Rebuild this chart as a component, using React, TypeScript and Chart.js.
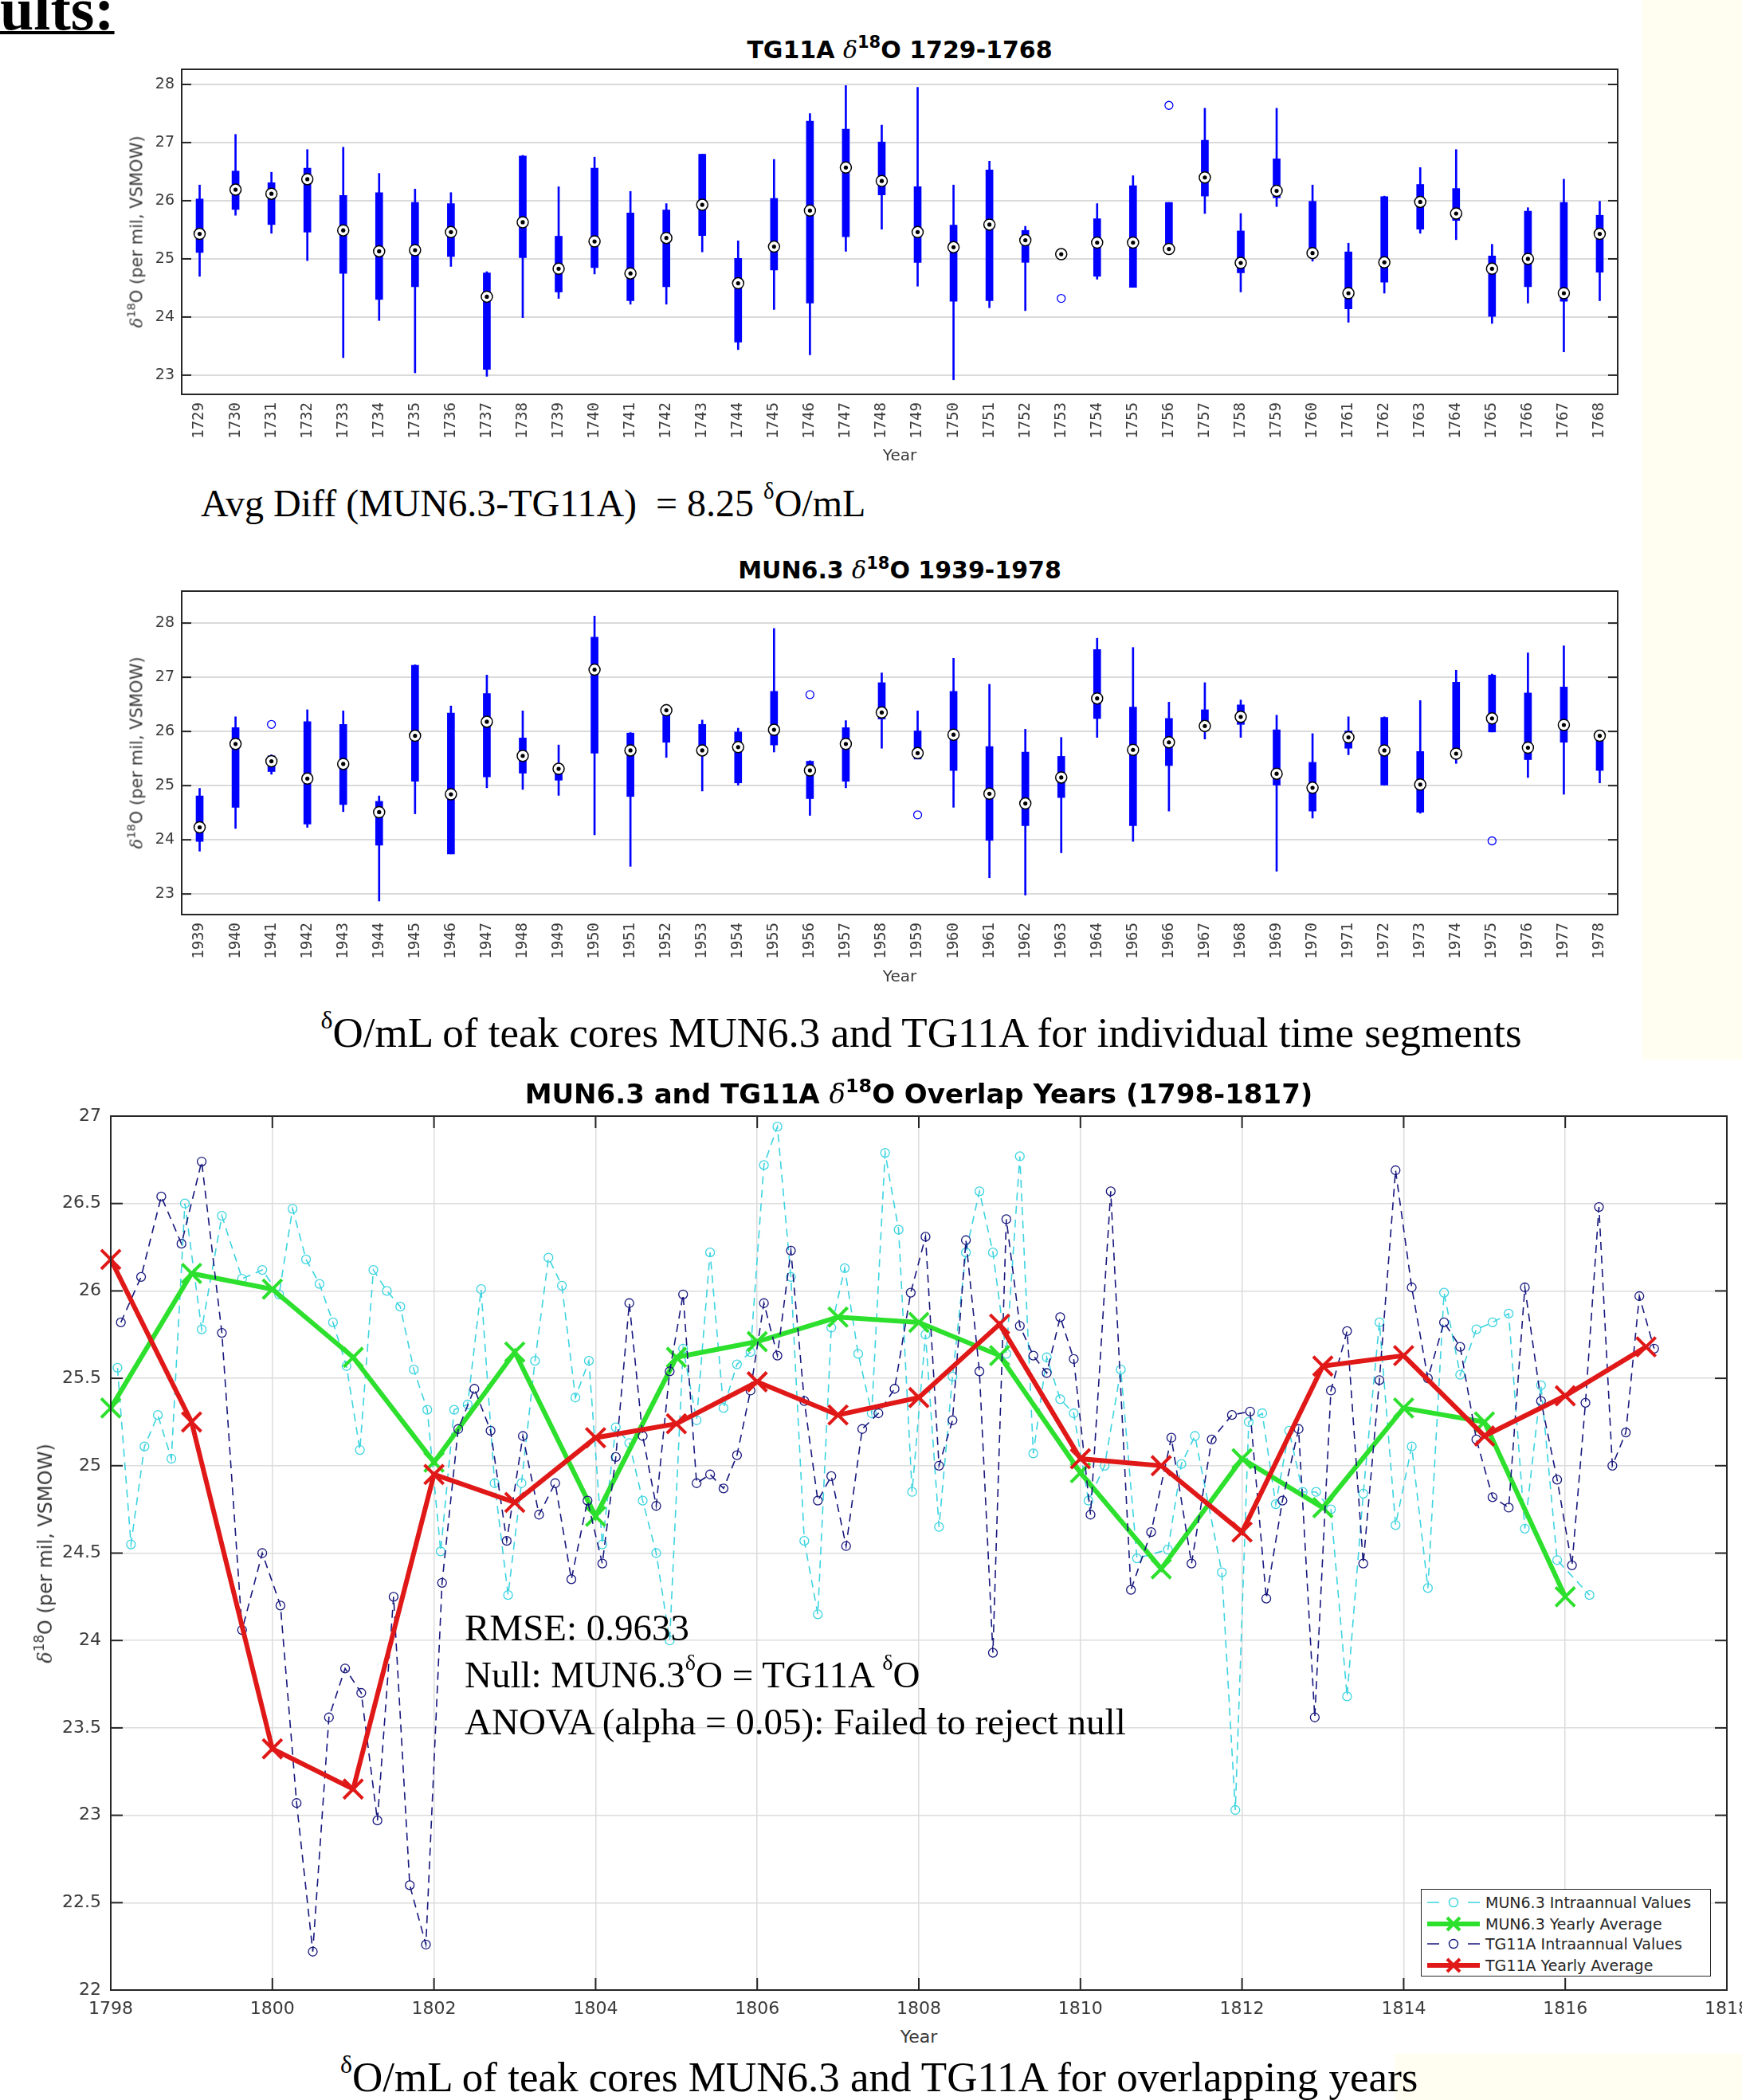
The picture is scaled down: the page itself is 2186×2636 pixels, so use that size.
import React, { useEffect, useRef } from 'react';
import { Chart, registerables } from 'chart.js';

Chart.register(...registerables);

// ---------------- TG11A boxplot (1729-1768) ----------------
const tgYears = ['1729','1730','1731','1732','1733','1734','1735','1736','1737','1738','1739','1740','1741','1742','1743','1744','1745','1746','1747','1748','1749','1750','1751','1752','1753','1754','1755','1756','1757','1758','1759','1760','1761','1762','1763','1764','1765','1766','1767','1768'];
const tgLow  = [24.70,25.75,25.44,24.97,23.30,23.94,23.04,24.87,22.98,23.99,24.32,24.74,24.22,24.22,25.12,23.44,24.13,23.35,25.13,25.51,24.53,22.92,24.16,24.11,25.08,24.65,24.51,25.10,25.78,24.43,25.90,24.96,23.91,24.41,25.44,25.33,23.89,24.24,23.40,24.28];
const tgQ1   = [25.11,25.85,25.59,25.46,24.75,24.30,24.52,25.04,23.10,25.02,24.43,24.85,24.28,24.52,25.40,23.57,24.81,24.24,25.38,26.10,24.94,24.27,24.28,24.94,25.08,24.70,24.51,25.17,26.08,24.76,26.05,25.02,24.14,24.60,25.51,25.66,24.01,24.52,24.27,24.77];
const tgMed  = [25.43,26.19,26.12,26.37,25.49,25.13,25.15,25.46,24.35,25.63,24.83,25.30,24.75,25.36,25.93,24.58,25.21,25.83,26.57,26.34,25.46,25.20,25.59,25.32,25.08,25.28,25.28,25.17,26.40,24.93,26.17,25.10,24.41,24.94,25.98,25.78,24.83,25.00,24.41,25.43];
const tgQ3   = [26.03,26.51,26.31,26.56,26.09,26.14,25.97,25.95,24.76,26.77,25.39,26.56,25.79,25.84,26.80,25.01,26.04,27.37,27.23,27.01,26.24,25.58,26.53,25.49,25.08,25.69,26.26,25.97,27.04,25.48,26.72,25.99,25.12,26.07,26.28,26.21,25.05,25.82,25.97,25.75];
const tgHigh = [26.27,27.14,26.49,26.88,26.92,26.47,26.20,26.14,24.78,26.78,26.24,26.75,26.16,25.95,26.80,25.31,26.71,27.50,27.98,27.30,27.95,26.27,26.68,25.56,25.08,25.95,26.43,25.97,27.59,25.78,27.59,26.27,25.27,26.08,26.57,26.88,25.25,25.88,26.37,25.99];
const tgOutlierYears = ['1753','1756'];
const tgOutlierValues = [24.32, 27.64];

// ---------------- MUN6.3 boxplot (1939-1978) ----------------
const munYears = ['1939','1940','1941','1942','1943','1944','1945','1946','1947','1948','1949','1950','1951','1952','1953','1954','1955','1956','1957','1958','1959','1960','1961','1962','1963','1964','1965','1966','1967','1968','1969','1970','1971','1972','1973','1974','1975','1976','1977','1978'];
const munLow  = [23.79,24.21,25.21,24.23,24.52,22.87,24.48,23.74,24.96,24.93,24.82,24.09,23.51,25.52,24.90,25.01,25.62,24.45,24.96,25.69,25.49,24.60,23.30,22.98,23.76,25.89,23.97,24.53,25.86,25.89,23.42,24.40,25.57,25.01,24.49,25.41,25.99,25.15,24.84,25.05];
const munQ1   = [23.97,24.60,25.26,24.29,24.65,23.90,25.08,23.74,25.16,25.23,25.10,25.60,24.80,25.80,25.62,25.05,25.75,24.76,25.08,26.23,25.49,25.28,23.99,24.26,24.78,26.24,24.26,25.37,26.09,26.13,25.01,24.53,25.69,25.01,24.51,25.52,25.99,25.48,25.80,25.28];
const munMed  = [24.23,25.77,25.45,25.13,25.40,24.51,25.92,24.84,26.18,25.55,25.31,27.14,25.65,26.39,25.65,25.71,26.03,25.28,25.77,26.35,25.60,25.94,24.85,24.67,25.15,26.61,25.66,25.80,26.10,26.27,25.22,24.96,25.89,25.65,25.02,25.59,26.24,25.70,26.12,25.92];
const munQ3   = [24.81,26.07,25.55,26.18,26.13,24.71,27.22,26.34,26.70,25.88,25.36,27.74,25.97,26.47,26.13,25.99,26.74,25.45,26.07,26.90,26.01,26.74,25.72,25.62,25.54,27.51,26.45,26.24,26.40,26.49,26.03,25.43,26.01,26.26,25.63,26.91,27.04,26.71,26.82,25.93];
const munHigh = [24.95,26.27,25.57,26.40,26.38,24.81,27.23,26.47,27.04,26.38,25.75,28.13,25.98,26.50,26.21,26.06,27.90,25.46,26.20,27.08,26.38,27.35,26.87,26.04,25.89,27.72,27.55,26.54,26.90,26.58,26.30,25.96,26.27,26.27,26.57,27.13,27.06,27.45,27.58,25.98];
const munOutlierYears = ['1941','1956','1959','1975'];
const munOutlierValues = [26.13, 26.68, 24.46, 23.98];

const boxYTicks = [23, 24, 25, 26, 27, 28];

// ---------------- Overlap years (1798-1817) ----------------
const mun63IntraX = [1798.083,1798.25,1798.417,1798.583,1798.75,1798.917,1799.125,1799.375,1799.625,1799.875,1800.083,1800.25,1800.417,1800.583,1800.75,1800.917,1801.083,1801.25,1801.417,1801.583,1801.75,1801.917,1802.083,1802.25,1802.417,1802.583,1802.75,1802.917,1803.083,1803.25,1803.417,1803.583,1803.75,1803.917,1804.083,1804.25,1804.417,1804.583,1804.75,1804.917,1805.083,1805.25,1805.417,1805.583,1805.75,1805.917,1806.083,1806.25,1806.417,1806.583,1806.75,1806.917,1807.083,1807.25,1807.417,1807.583,1807.75,1807.917,1808.083,1808.25,1808.417,1808.583,1808.75,1808.917,1809.083,1809.25,1809.417,1809.583,1809.75,1809.917,1810.1,1810.3,1810.5,1810.7,1811.083,1811.25,1811.417,1811.75,1811.917,1812.083,1812.25,1812.417,1812.583,1812.75,1812.917,1813.1,1813.3,1813.5,1813.7,1813.9,1814.1,1814.3,1814.5,1814.7,1814.9,1815.1,1815.3,1815.5,1815.7,1815.9,1816.3];
const mun63IntraY = [25.56,24.55,25.11,25.29,25.04,26.50,25.78,26.43,26.07,26.12,25.98,26.47,26.18,26.04,25.82,25.57,25.09,26.12,26.00,25.91,25.55,25.32,24.51,25.32,25.35,26.01,24.90,24.26,24.90,25.60,26.19,26.03,25.39,25.60,24.55,25.22,25.13,24.80,24.50,24.00,25.67,25.26,26.22,25.33,25.58,25.65,26.72,26.94,26.08,24.57,24.15,25.79,26.13,25.64,25.30,26.79,26.35,24.85,25.75,24.65,25.51,26.22,26.57,26.22,25.64,26.77,25.07,25.62,25.38,25.30,24.80,25.00,25.55,24.47,24.52,25.01,25.17,24.39,23.03,25.25,25.30,24.78,25.20,24.85,24.85,24.75,23.68,24.84,25.82,24.66,25.11,24.30,25.99,25.52,25.78,25.82,25.87,24.64,25.46,24.46,24.26];

const tg11aIntraX = [1798.125,1798.375,1798.625,1798.875,1799.125,1799.375,1799.625,1799.875,1800.1,1800.3,1800.5,1800.7,1800.9,1801.1,1801.3,1801.5,1801.7,1801.9,1802.1,1802.3,1802.5,1802.7,1802.9,1803.1,1803.3,1803.5,1803.7,1803.9,1804.083,1804.25,1804.417,1804.583,1804.75,1804.917,1805.083,1805.25,1805.417,1805.583,1805.75,1805.917,1806.083,1806.25,1806.417,1806.583,1806.75,1806.917,1807.1,1807.3,1807.5,1807.7,1807.9,1808.083,1808.25,1808.417,1808.583,1808.75,1808.917,1809.083,1809.25,1809.417,1809.583,1809.75,1809.917,1810.125,1810.375,1810.625,1810.875,1811.125,1811.375,1811.625,1811.875,1812.1,1812.3,1812.5,1812.7,1812.9,1813.1,1813.3,1813.5,1813.7,1813.9,1814.1,1814.3,1814.5,1814.7,1814.9,1815.1,1815.3,1815.5,1815.7,1815.9,1816.083,1816.25,1816.417,1816.583,1816.75,1816.917,1817.1];
const tg11aIntraY = [25.82,26.08,26.54,26.27,26.74,25.76,24.06,24.50,24.20,23.07,22.22,23.56,23.84,23.70,22.97,24.25,22.60,22.26,24.33,25.21,25.44,25.20,24.57,25.17,24.72,24.90,24.35,24.80,24.44,25.05,25.93,25.17,24.77,25.54,25.98,24.90,24.95,24.87,25.06,25.43,25.93,25.63,26.23,25.37,24.80,24.94,24.54,25.21,25.30,25.44,25.99,26.31,25.00,25.26,26.29,25.54,23.93,26.41,25.80,25.63,25.53,25.85,25.61,24.72,26.57,24.29,24.62,25.16,24.44,25.15,25.29,25.31,24.24,24.80,25.21,23.56,25.43,25.77,24.44,25.49,26.69,26.02,25.50,25.82,25.68,25.15,24.82,24.76,26.02,25.37,24.92,24.43,25.36,26.48,25.00,25.19,25.97,25.67];

const mun63AvgYears = [1798,1799,1800,1801,1802,1803,1804,1805,1806,1807,1808,1809,1810,1811,1812,1813,1814,1815,1816];
const mun63AvgValues = [25.33,26.10,26.01,25.62,25.02,25.65,24.71,25.62,25.71,25.85,25.82,25.63,24.96,24.41,25.04,24.76,25.33,25.25,24.25];
const tg11aAvgYears = [1798,1799,1800,1801,1802,1803,1804,1805,1806,1807,1808,1809,1810,1811,1812,1813,1814,1815,1816,1817];
const tg11aAvgValues = [26.18,25.25,23.38,23.15,24.95,24.79,25.16,25.24,25.48,25.29,25.39,25.81,25.04,25.00,24.62,25.57,25.63,25.17,25.40,25.68];

const overlapXTicks = [1798,1800,1802,1804,1806,1808,1810,1812,1814,1816,1818];
const overlapYTicks = [22,22.5,23,23.5,24,24.5,25,25.5,26,26.5,27];

// ---------------- styling constants ----------------
const CYAN = '#3cd4e0';
const NAVY = '#17177e';
const GREEN = '#2de02d';
const RED = '#e01818';
const BOXBLUE = '#0000ff';
const AXIS_TXT = '#3a3a3a';

const framePlugin = {
  id: 'matlabFrame',
  afterDraw(chart: any, _args: any, opts: any) {
    const { ctx, chartArea } = chart;
    const { left, right, top, bottom } = chartArea;
    const len = opts.tickLen || 12;
    ctx.save();
    ctx.strokeStyle = opts.color || '#262626';
    ctx.lineWidth = opts.width || 2;
    const line = (x1: number, y1: number, x2: number, y2: number) => {
      ctx.beginPath(); ctx.moveTo(x1, y1); ctx.lineTo(x2, y2); ctx.stroke();
    };
    const ys = chart.scales.y;
    ys.ticks.forEach((_t: any, i: number) => {
      const py = ys.getPixelForTick(i);
      line(left, py, left + len, py);
      line(right, py, right - len, py);
    });
    if (opts.xTicks) {
      const xs = chart.scales.x;
      xs.ticks.forEach((_t: any, i: number) => {
        const px = xs.getPixelForTick(i);
        line(px, bottom, px, bottom - len);
        line(px, top, px, top + len);
      });
    }
    ctx.strokeRect(left, top, right - left, bottom - top);
    ctx.restore();
  },
};

function alignOutliers(labels: string[], years: string[], values: number[]) {
  return labels.map((l) => {
    const i = years.indexOf(l);
    return i >= 0 ? values[i] : null;
  });
}

const fixY = (w: number) => (s: any) => { s.width = w; s.paddingTop = 0; s.paddingBottom = 0; };
const fixX = (h: number) => (s: any) => { s.height = h; s.paddingLeft = 0; s.paddingRight = 0; };

type BoxProps = {
  labels: string[]; low: number[]; q1: number[]; med: number[]; q3: number[]; high: number[];
  outYears: string[]; outValues: number[]; yMin: number; yMax: number;
  left: number; top: number; w: number; h: number; padTop: number; padRight: number; yAxisW: number; xAxisH: number;
};

function BoxPlot(p: BoxProps) {
  const ref = useRef<HTMLCanvasElement>(null);
  useEffect(() => {
    const outliers = alignOutliers(p.labels, p.outYears, p.outValues);
    const chart = new Chart(ref.current as HTMLCanvasElement, {
      type: 'bar',
      data: {
        labels: p.labels,
        datasets: [
          { type: 'line', data: p.med, showLine: false, pointRadius: 2.6, pointBackgroundColor: '#000', pointBorderWidth: 0, order: 0 } as any,
          { type: 'line', data: p.med, showLine: false, pointRadius: 7, pointBackgroundColor: '#fff', pointBorderColor: '#000', pointBorderWidth: 1.5, order: 1 } as any,
          { type: 'line', data: outliers, showLine: false, pointRadius: 5, pointBackgroundColor: 'rgba(0,0,0,0)', pointBorderColor: BOXBLUE, pointBorderWidth: 1.3, order: 2 } as any,
          { type: 'bar', data: p.q1.map((v, i) => [v, p.q3[i]]), backgroundColor: BOXBLUE, barThickness: 9, grouped: false, order: 3 } as any,
          { type: 'bar', data: p.low.map((v, i) => [v, p.high[i]]), backgroundColor: BOXBLUE, barThickness: 2, grouped: false, order: 4 } as any,
        ],
      },
      options: {
        animation: false,
        responsive: false,
        events: [],
        layout: { autoPadding: false, padding: { left: 0, right: p.padRight, top: p.padTop, bottom: 0 } },
        plugins: { legend: { display: false }, tooltip: { enabled: false }, matlabFrame: { tickLen: 12, xTicks: false, width: 2 } } as any,
        scales: {
          x: {
            grid: { display: false, drawTicks: false },
            border: { display: false },
            ticks: { minRotation: 90, maxRotation: 90, autoSkip: false, padding: 10, color: AXIS_TXT, font: { family: 'DejaVu Sans Mono', size: 19 } },
            afterFit: fixX(p.xAxisH),
          },
          y: {
            min: p.yMin, max: p.yMax,
            grid: { color: '#dadada', lineWidth: 2, drawTicks: false },
            border: { display: false },
            ticks: { padding: 9, color: AXIS_TXT, font: { family: 'DejaVu Sans', size: 19 }, callback: (v: any) => String(v) },
            afterBuildTicks: (s: any) => { s.ticks = boxYTicks.map((v) => ({ value: v })); },
            afterFit: fixY(p.yAxisW),
          },
        } as any,
      },
      plugins: [framePlugin],
    } as any);
    return () => chart.destroy();
  }, []);
  return <canvas ref={ref} width={p.w} height={p.h} style={{ position: 'absolute', left: p.left, top: p.top, width: p.w, height: p.h }} />;
}

function OverlapChart() {
  const ref = useRef<HTMLCanvasElement>(null);
  useEffect(() => {
    const pts = (xs: number[], ys: number[]) => xs.map((x, i) => ({ x, y: ys[i] }));
    const chart = new Chart(ref.current as HTMLCanvasElement, {
      type: 'line',
      data: {
        datasets: [
          { label: 'MUN6.3 Intraannual Values', data: pts(mun63IntraX, mun63IntraY), borderColor: CYAN, borderWidth: 1.6, borderDash: [10, 7], pointStyle: 'circle', pointRadius: 5.5, pointBorderWidth: 1.3, pointBorderColor: CYAN, pointBackgroundColor: 'rgba(0,0,0,0)', clip: false, order: 3 },
          { label: 'MUN6.3 Yearly Average', data: pts(mun63AvgYears, mun63AvgValues), borderColor: GREEN, borderWidth: 6, pointStyle: 'crossRot', pointRadius: 17, pointBorderWidth: 4, pointBorderColor: GREEN, clip: false, order: 2 },
          { label: 'TG11A Intraannual Values', data: pts(tg11aIntraX, tg11aIntraY), borderColor: NAVY, borderWidth: 1.6, borderDash: [10, 7], pointStyle: 'circle', pointRadius: 5.5, pointBorderWidth: 1.3, pointBorderColor: NAVY, pointBackgroundColor: 'rgba(0,0,0,0)', clip: false, order: 1 },
          { label: 'TG11A Yearly Average', data: pts(tg11aAvgYears, tg11aAvgValues), borderColor: RED, borderWidth: 6, pointStyle: 'crossRot', pointRadius: 17, pointBorderWidth: 4, pointBorderColor: RED, clip: false, order: 0 },
        ] as any,
      },
      options: {
        animation: false,
        responsive: false,
        events: [],
        layout: { autoPadding: false, padding: { left: 0, right: 73, top: 11, bottom: 0 } },
        plugins: { legend: { display: false }, tooltip: { enabled: false }, matlabFrame: { tickLen: 15, xTicks: true, width: 2 } } as any,
        scales: {
          x: {
            type: 'linear', min: 1798, max: 1818,
            grid: { color: '#dcdcdc', lineWidth: 1.5, drawTicks: false },
            border: { display: false },
            ticks: { padding: 11, autoSkip: false, maxRotation: 0, color: AXIS_TXT, font: { family: 'DejaVu Sans', size: 22 }, callback: (v: any) => String(v) },
            afterBuildTicks: (s: any) => { s.ticks = overlapXTicks.map((v) => ({ value: v })); },
            afterFit: fixX(40),
          },
          y: {
            min: 22, max: 27,
            grid: { color: '#dcdcdc', lineWidth: 1.5, drawTicks: false },
            border: { display: false },
            ticks: { padding: 12, color: AXIS_TXT, font: { family: 'DejaVu Sans', size: 22 }, callback: (v: any) => String(v) },
            afterBuildTicks: (s: any) => { s.ticks = overlapYTicks.map((v) => ({ value: v })); },
            afterFit: fixY(139),
          },
        } as any,
      },
      plugins: [framePlugin],
    } as any);
    return () => chart.destroy();
  }, []);
  return <canvas ref={ref} width={2240} height={1148} style={{ position: 'absolute', left: 0, top: 1390, width: 2240, height: 1148 }} />;
}

// ---------------- text helpers ----------------
const SANS = "'DejaVu Sans', sans-serif";
const SERIF = "'Liberation Serif', 'Times New Roman', serif";

function Txt(props: { x: number; y: number; size: number; family?: string; weight?: any; color?: string; center?: boolean; children: any; style?: any }) {
  const { x, y, size, family = SERIF, weight = 'normal', color = '#000', center = false } = props;
  return (
    <div style={{
      position: 'absolute', left: x, top: y - 0.84 * size, fontSize: size, lineHeight: 1, fontFamily: family,
      fontWeight: weight, color, whiteSpace: 'pre', transform: center ? 'translateX(-50%)' : undefined, zIndex: 5, ...(props.style || {}),
    }}>{props.children}</div>
  );
}

const Sup = ({ children, scale = 0.6, raise = -0.75 }: any) => (
  <span style={{ fontSize: `${scale}em`, position: 'relative', top: `${raise}em` }}>{children}</span>
);

function YLabel({ cx, cy, size }: { cx: number; cy: number; size: number }) {
  return (
    <div style={{
      position: 'absolute', left: cx, top: cy, transform: 'translate(-50%, -50%) rotate(-90deg)', fontFamily: SANS,
      fontSize: size, lineHeight: 1, color: AXIS_TXT, whiteSpace: 'nowrap', zIndex: 5,
    }}>
      <span style={{ fontStyle: 'italic', fontFamily: "'DejaVu Serif', serif" }}>δ</span><Sup scale={0.7} raise={-0.6}>18</Sup>O (per mil, VSMOW)
    </div>
  );
}

function Title({ cx, y, size, pre, post }: { cx: number; y: number; size: number; pre: string; post: string }) {
  return (
    <Txt x={cx} y={y} size={size} family={SANS} weight="bold" center>
      {pre}<span style={{ fontStyle: 'italic', fontWeight: 'normal', fontFamily: "'DejaVu Serif', serif" }}>δ</span><Sup scale={0.7} raise={-0.6}>18</Sup>{post}
    </Txt>
  );
}

function LegendRow({ top, color, thick, label }: { top: number; color: string; thick: boolean; label: string }) {
  return (
    <div style={{ position: 'absolute', left: 0, top: top - 10, height: 20, width: '100%' }}>
      <svg width={70} height={20} style={{ position: 'absolute', left: 7, top: 0 }}>
        {thick ? (
          <g>
            <line x1={0} y1={10} x2={66} y2={10} stroke={color} strokeWidth={6} />
            <line x1={25} y1={2} x2={41} y2={18} stroke={color} strokeWidth={4} />
            <line x1={25} y1={18} x2={41} y2={2} stroke={color} strokeWidth={4} />
          </g>
        ) : (
          <g>
            <line x1={0} y1={10} x2={66} y2={10} stroke={color} strokeWidth={1.6} strokeDasharray="15,36" />
            <circle cx={33} cy={10} r={5.5} fill="none" stroke={color} strokeWidth={1.4} />
          </g>
        )}
      </svg>
      <div style={{ position: 'absolute', left: 80, top: 0, height: 20, lineHeight: '20px', fontFamily: SANS, fontSize: 19, color: '#262626', whiteSpace: 'nowrap' }}>{label}</div>
    </div>
  );
}

export default function App() {
  return (
    <div style={{ position: 'absolute', left: 0, top: 0, width: 2186, height: 2636, overflow: 'hidden', background: '#fff' }}>
      {/* cream background areas */}
      <div style={{ position: 'absolute', left: 2061, top: 0, width: 125, height: 1330, background: '#fffef1' }} />
      <div style={{ position: 'absolute', left: 1750, top: 2578, width: 436, height: 58, background: '#fffef1' }} />

      <Txt x={0} y={36.5} size={76} weight="bold" style={{ textDecoration: 'underline', textDecorationThickness: '3.5px' }}>ults:</Txt>

      {/* Chart 1 */}
      <Title cx={1129} y={72.7} size={30} pre="TG11A " post="O 1729-1768" />
      <BoxPlot labels={tgYears} low={tgLow} q1={tgQ1} med={tgMed} q3={tgQ3} high={tgHigh} outYears={tgOutlierYears} outValues={tgOutlierValues}
        yMin={22.67} yMax={28.26} left={0} top={80} w={2060} h={500} padTop={7} padRight={30} yAxisW={228} xAxisH={85} />
      <YLabel cx={172} cy={291} size={21} />
      <Txt x={1129} y={578} size={20} family={SANS} color={AXIS_TXT} center>Year</Txt>

      <Txt x={252} y={648} size={48}>Avg Diff (MUN6.3-TG11A)  = 8.25 <Sup>δ</Sup>O/mL</Txt>

      {/* Chart 2 */}
      <Title cx={1129} y={726.5} size={30} pre="MUN6.3 " post="O 1939-1978" />
      <BoxPlot labels={munYears} low={munLow} q1={munQ1} med={munMed} q3={munQ3} high={munHigh} outYears={munOutlierYears} outValues={munOutlierValues}
        yMin={22.62} yMax={28.59} left={0} top={735} w={2060} h={498} padTop={7} padRight={30} yAxisW={228} xAxisH={85} />
      <YLabel cx={172} cy={945} size={21} />
      <Txt x={1129} y={1232} size={20} family={SANS} color={AXIS_TXT} center>Year</Txt>

      <Txt x={1156} y={1315} size={53} center><Sup>δ</Sup>O/mL of teak cores MUN6.3 and TG11A for individual time segments</Txt>

      {/* Chart 3 */}
      <Title cx={1153} y={1384.5} size={34} pre="MUN6.3 and TG11A " post="O Overlap Years (1798-1817)" />
      <OverlapChart />
      <YLabel cx={57} cy={1950} size={24} />
      <Txt x={1153} y={2564} size={22} family={SANS} color={AXIS_TXT} center>Year</Txt>

      <Txt x={583} y={2059} size={47}>RMSE: 0.9633</Txt>
      <Txt x={583} y={2118} size={47}>Null: MUN6.3<Sup>δ</Sup>O = TG11A <Sup>δ</Sup>O</Txt>
      <Txt x={583} y={2177} size={47}>ANOVA (alpha = 0.05): Failed to reject null</Txt>

      <div style={{ position: 'absolute', left: 1783, top: 2371, width: 362, height: 108, border: '1.5px solid #262626', background: '#fff', zIndex: 6 }}>
        <LegendRow top={15.5} color={CYAN} thick={false} label="MUN6.3 Intraannual Values" />
        <LegendRow top={42.5} color={GREEN} thick={true} label="MUN6.3 Yearly Average" />
        <LegendRow top={68} color={NAVY} thick={false} label="TG11A Intraannual Values" />
        <LegendRow top={95} color={RED} thick={true} label="TG11A Yearly Average" />
      </div>

      <Txt x={427} y={2626} size={53}><Sup>δ</Sup>O/mL of teak cores MUN6.3 and TG11A for overlapping years</Txt>
    </div>
  );
}
